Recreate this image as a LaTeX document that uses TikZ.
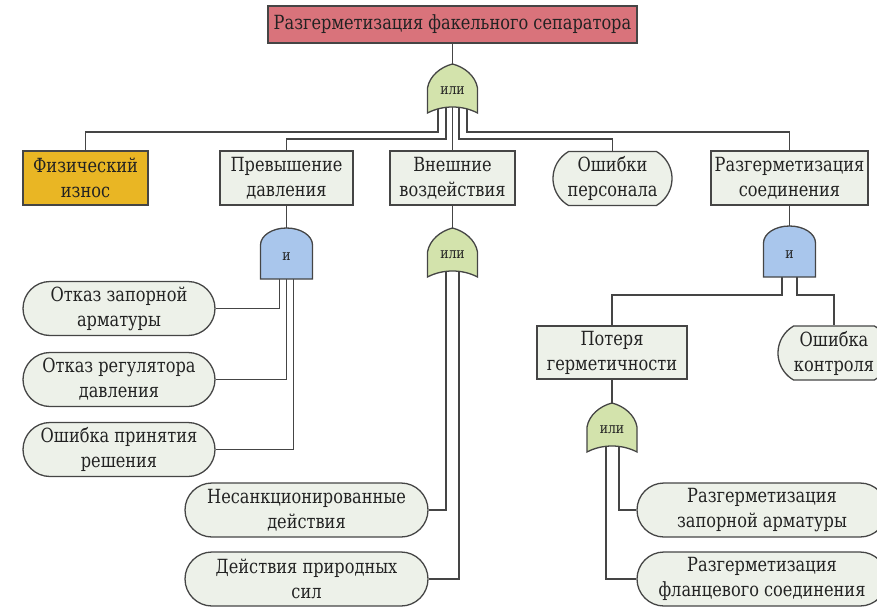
\documentclass[tikz,border=0pt]{standalone}
\usepackage{fontspec}
\setmainfont{DejaVu Serif}
\newfontfamily\serf{DejaVu Serif}[FakeStretch=0.83]
\usetikzlibrary{shapes.misc,backgrounds}
\definecolor{edge}{HTML}{454545}
\definecolor{txt}{HTML}{222222}
\definecolor{topfill}{HTML}{D9737B}
\definecolor{fizfill}{HTML}{E9B624}
\definecolor{boxfill}{HTML}{EDF1E9}
\definecolor{orfill}{HTML}{D3E3AC}
\definecolor{andfill}{HTML}{A9C6EC}
\begin{document}
\begin{tikzpicture}[x=1pt,y=-1pt,
  every node/.style={text=txt},
  base/.style={draw=edge, line width=1.3pt, fill=boxfill, align=center, inner sep=0pt,
    minimum height=54pt, font=\serf\fontsize{19.5}{25}\selectfont},
  rbox/.style={base, rectangle},
  sbox/.style={base, rounded rectangle},
  gatelbl/.style={font=\serf\fontsize{15}{17}\selectfont, inner sep=0pt},
  conn/.style={draw=edge, line width=1.3pt},
  orgate/.pic={\path[draw=edge, line width=1.3pt, fill=orfill]
     (0,0) .. controls (12,3) and (23,12) .. (25,24) -- (25,49)
     .. controls (10,41) and (-10,41) .. (-25,49) -- (-25,24)
     .. controls (-23,12) and (-12,3) .. (0,0) -- cycle;},
  andgate/.pic={\path[draw=edge, line width=1.3pt, fill=andfill]
     (-26,51) -- (-26,17) .. controls (-26,7.6) and (-14.4,0) .. (0,0)
     .. controls (14.4,0) and (26,7.6) .. (26,17) -- (26,51) -- cycle;}
]
\useasboundingbox (0,0) rectangle (877,607);
\clip (0,0) rectangle (877,607);

% nodes
\node[rbox, fill=topfill, minimum width=369pt, minimum height=37pt] (top) at (452.5,24.5) {Разгерметизация факельного сепаратора};
\node[rbox, fill=fizfill, minimum width=125pt] (fiz) at (85.5,178) {Физический\\износ};
\node[rbox, minimum width=133pt] (prev) at (286.5,178) {Превышение\\давления};
\node[rbox, minimum width=125pt] (ext) at (452.5,178) {Внешние\\воздействия};
\node[sbox, rounded rectangle arc length=120, minimum width=119pt] (pers) at (612.5,178.5) {Ошибки\\персонала};
\node[rbox, minimum width=157pt] (razs) at (789.5,178) {Разгерметизация\\соединения};

\node[sbox, minimum width=192pt] (ot1) at (119,308.5) {Отказ запорной\\арматуры};
\node[sbox, minimum width=192pt] (ot2) at (119,379.5) {Отказ регулятора\\давления};
\node[sbox, minimum width=192pt] (ot3) at (119,449.5) {Ошибка принятия\\решения};
\node[sbox, minimum width=243pt] (nes) at (306.5,510) {Несанкционированные\\действия};
\node[sbox, minimum width=243pt] (nat) at (306.5,579) {Действия природных\\сил};

\node[rbox, minimum width=150pt, minimum height=53pt] (pot) at (612,352.5) {Потеря\\герметичности};
\node[sbox, rounded rectangle arc length=120, minimum width=112pt] (okon) at (834,353) {Ошибка\\контроля};
\node[sbox, minimum width=250pt] (rz1) at (762,510) {Разгерметизация\\запорной арматуры};
\node[sbox, minimum width=250pt] (rz2) at (762,579) {Разгерметизация\\фланцевого соединения};

% gates
\pic at (452.5,64) {orgate};
\node[gatelbl] (g0) at (452.5,91) {или};
\coordinate (g0t) at (452.5,64);
\coordinate (g0a) at (438,104);
\coordinate (g0b) at (446,104);
\coordinate (g0c) at (452.5,104);
\coordinate (g0d) at (459,104);
\coordinate (g0e) at (467,104);

\pic at (286.5,228) {andgate};
\node[gatelbl] (g1) at (286.5,257) {и};
\coordinate (g1t) at (286.5,228);
\coordinate (g1a) at (279.5,270);
\coordinate (g1b) at (286.5,270);
\coordinate (g1c) at (293.5,270);

\pic at (452.5,228) {orgate};
\node[gatelbl] (g2) at (452.5,255) {или};
\coordinate (g2t) at (452.5,228);
\coordinate (g2a) at (446,265);
\coordinate (g2b) at (459,265);

\pic at (789.5,226) {andgate};
\node[gatelbl] (g3) at (789.5,255) {и};
\coordinate (g3t) at (789.5,226);
\coordinate (g3a) at (782,270);
\coordinate (g3b) at (797,270);

\pic at (612,403) {orgate};
\node[gatelbl] (g4) at (612,430) {или};
\coordinate (g4t) at (612,403);
\coordinate (g4a) at (606,440);
\coordinate (g4b) at (619,440);

% connectors
\begin{pgfonlayer}{background}
\draw[conn] (top.south) -- (g0t);
\draw[conn] (g0a) -- ++(0,28) -| (fiz.north);
\draw[conn] (g0b) -- ++(0,35) -| (prev.north);
\draw[conn] (g0c) -- (ext.north);
\draw[conn] (g0d) -- ++(0,35) -| (pers.north);
\draw[conn] (g0e) -- ++(0,28) -| (razs.north);

\draw[conn] (prev.south) -- (g1t);
\draw[conn] (g1a) |- (ot1.east);
\draw[conn] (g1b) |- (ot2.east);
\draw[conn] (g1c) |- (ot3.east);

\draw[conn] (ext.south) -- (g2t);
\draw[conn] (g2a) |- (nes.east);
\draw[conn] (g2b) |- (nat.east);

\draw[conn] (razs.south) -- (g3t);
\draw[conn] (g3a) -- ++(0,25) -| (pot.north);
\draw[conn] (g3b) -- ++(0,25) -| (okon.north);

\draw[conn] (pot.south) -- (g4t);
\draw[conn] (g4b) |- (rz1.west);
\draw[conn] (g4a) |- (rz2.west);
\end{pgfonlayer}
\end{tikzpicture}
\end{document}
